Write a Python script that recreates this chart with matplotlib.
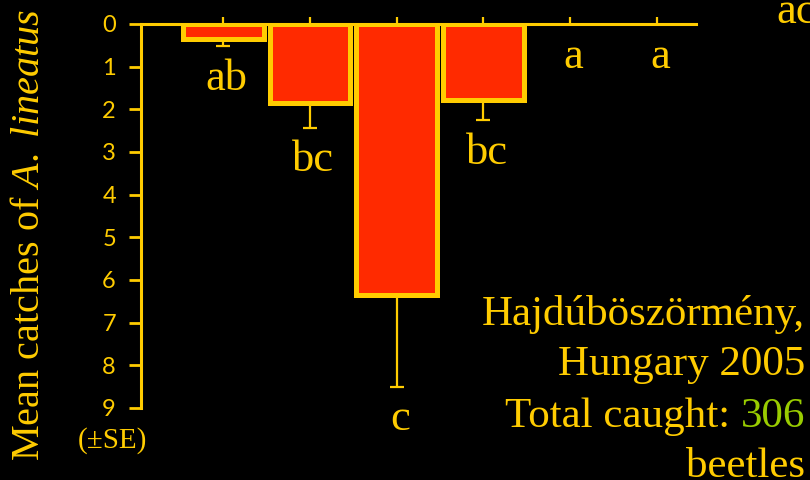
import numpy as np
import matplotlib.pyplot as plt

# data
treatments = [1, 2, 3, 4, 5, 6]
mean_catch = [0.35, 1.85, 6.35, 1.78, 0.0, 0.0]
se_catch = [0.17, 0.58, 2.15, 0.47, 0.0, 0.0]
letters = ["ab", "bc", "c", "bc", "a", "a"]
yticks = list(range(10))

YELLOW = "#FFCC00"
RED = "#FF2A00"
GREEN = "#99CC00"

plt.rcParams["font.family"] = ["Liberation Serif", "DejaVu Serif"]
plt.rcParams["mathtext.fontset"] = "custom"
plt.rcParams["mathtext.rm"] = "Liberation Serif"
plt.rcParams["mathtext.it"] = "Liberation Serif:italic"

fig = plt.figure(figsize=(8.1, 4.8), dpi=100, facecolor="black")
ax = fig.add_axes([0.174, 0.15, 0.685, 0.80], facecolor="black")

x = np.array(treatments)
m = np.array(mean_catch)
se = np.array(se_catch)
has = m > 0  # empty traps draw nothing

ax.bar(x[has], m[has], width=0.93, color=RED, edgecolor=YELLOW,
       linewidth=3.6, zorder=2)
ax.errorbar(x[has], m[has], yerr=[np.zeros(has.sum()), se[has]], fmt="none",
            ecolor=YELLOW, elinewidth=1.6, capsize=4.7, capthick=1.6, zorder=3)

for xi, mi, si, lab in zip(treatments, mean_catch, se_catch, letters):
    ax.text(xi + 0.04, mi + si + 1.02, lab, ha="center", va="baseline",
            fontsize=32, color=YELLOW, clip_on=False)

ax.set_xlim(0.05, 6.45)
ax.set_ylim(9, 0)
ax.set_yticks(yticks)
ax.set_xticks(treatments)
ax.xaxis.tick_top()
ax.tick_params(axis="x", direction="out", length=5, width=1.6, color=YELLOW,
               labeltop=False, labelbottom=False)
ax.tick_params(axis="y", direction="out", length=9, width=2, color=YELLOW,
               labelcolor=YELLOW, labelsize=17, pad=9)
for lab in ax.get_yticklabels():
    lab.set_family("Lato")

for side in ["bottom", "right"]:
    ax.spines[side].set_visible(False)
for side in ["top", "left"]:
    ax.spines[side].set_color(YELLOW)
    ax.spines[side].set_linewidth(2.2)

fig.text(0.036, 0.51, r"Mean catches of $\mathit{A.\ lineatus}$", rotation=90,
         ha="center", va="center", fontsize=29, color=YELLOW)
fig.text(0.139, 0.083, "(±SE)", ha="center", va="center", fontsize=21,
         color=YELLOW)
fig.text(0.959, 0.952, "ac", ha="left", va="baseline", fontsize=32,
         color=YELLOW)

# site / total note, right aligned
fig.text(0.994, 1 - 325 / 480, "Hajdúböszörmény,", ha="right", va="baseline",
         fontsize=31, color=YELLOW)
fig.text(0.994, 1 - 375 / 480, "Hungary 2005", ha="right", va="baseline",
         fontsize=31, color=YELLOW)
t = fig.text(0.994, 1 - 427 / 480, "306", ha="right", va="baseline",
             fontsize=31, color=GREEN)
fig.canvas.draw()
bb = t.get_window_extent()
fig.text(bb.x0 / fig.bbox.width, 1 - 427 / 480, "Total caught: ", ha="right",
         va="baseline", fontsize=31, color=YELLOW)
fig.text(0.994, 1 - 477 / 480, "beetles", ha="right", va="baseline",
         fontsize=31, color=YELLOW)

fig.savefig("out.png", dpi=100, facecolor="black")
